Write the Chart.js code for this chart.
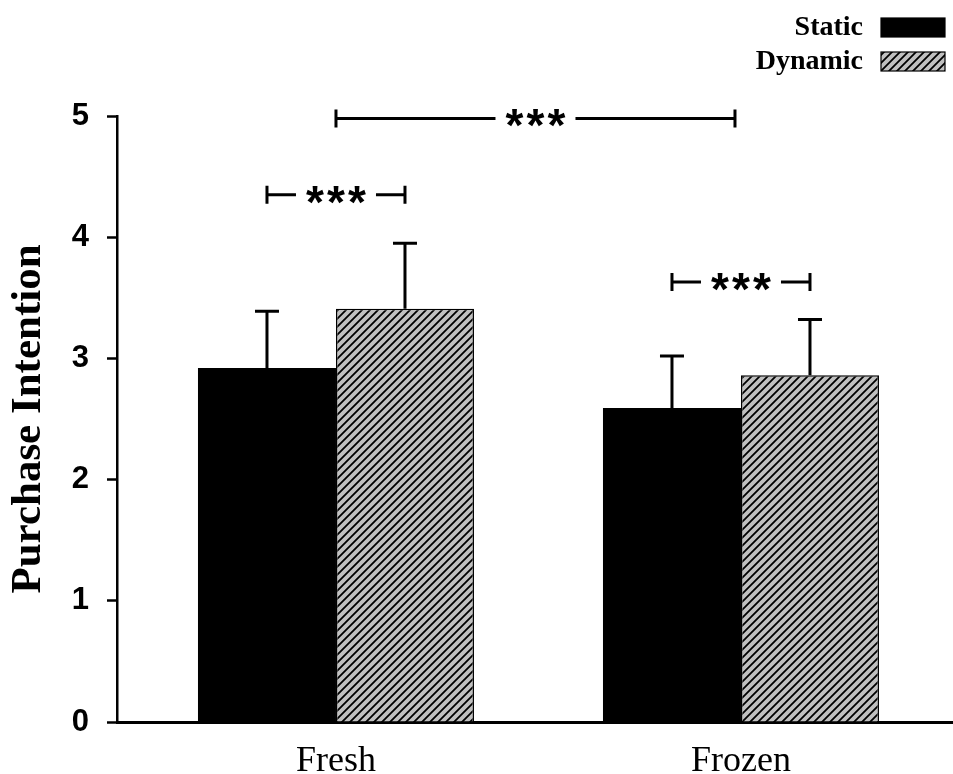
<!DOCTYPE html>
<html>
<head>
<meta charset="utf-8">
<script src="https://cdn.jsdelivr.net/npm/chart.js@4.4.0/dist/chart.umd.min.js"></script>
<style>
  html, body { margin: 0; padding: 0; background: #fff; }
  #wrap { width: 953px; height: 774px; }
</style>
</head>
<body>
<div id="wrap"><canvas id="intentionChart"></canvas></div>
<script>
// Purchase intention chart
const categories = ['Fresh', 'Frozen'];
const seriesNames = ['Static', 'Dynamic'];
const staticMeans = [2.92, 2.59];
const dynamicMeans = [3.41, 2.86];
const staticSD = [0.47, 0.43];
const dynamicSD = [0.54, 0.46];

// significance brackets: within a category (static vs dynamic) and between categories
const sigWithin = [
    { cat: 0, level: 4.35, label: '***' },
    { cat: 1, level: 3.63, label: '***' }
];
const sigBetween = [
    { from: 0, to: 1, level: 4.98, label: '***' }
];

function makeHatch() {
    const size = 8;
    const tile = document.createElement('canvas');
    tile.width = size;
    tile.height = size;
    const c = tile.getContext('2d');
    c.fillStyle = '#c0c0c0';
    c.fillRect(0, 0, size, size);
    c.strokeStyle = '#000';
    c.lineWidth = 1.8;
    c.beginPath();
    c.moveTo(-1, size + 1);
    c.lineTo(size + 1, -1);
    c.moveTo(-1, 1);
    c.lineTo(1, -1);
    c.moveTo(size - 1, size + 1);
    c.lineTo(size + 1, size - 1);
    c.stroke();
    return c.createPattern(tile, 'repeat');
}

const hatch = makeHatch();
const toPoints = arr => arr.map((v, i) => ({ x: i, y: v }));

// error bars (upper half only)
const errorBars = {
    id: 'errorBars',
    afterDatasetsDraw(chart) {
        const ctx = chart.ctx;
        const yScale = chart.scales.y;
        const sds = [staticSD, dynamicSD];
        const means = [staticMeans, dynamicMeans];
        ctx.save();
        ctx.strokeStyle = '#000';
        ctx.lineWidth = 3;
        chart.data.datasets.forEach((ds, di) => {
            chart.getDatasetMeta(di).data.forEach((bar, i) => {
                const top = yScale.getPixelForValue(means[di][i] + sds[di][i]);
                ctx.beginPath();
                ctx.moveTo(bar.x, bar.y);
                ctx.lineTo(bar.x, top);
                ctx.moveTo(bar.x - 12, top);
                ctx.lineTo(bar.x + 12, top);
                ctx.stroke();
            });
        });
        ctx.restore();
    }
};

function drawBracket(ctx, x0, x1, y, label) {
    ctx.font = 'bold 46px "Liberation Sans", Arial, sans-serif';
    const step = 21;
    const chars = label.split('');
    const w = step * (chars.length - 1) + 18;
    const mid = (x0 + x1) / 2;
    const gap = 10;
    ctx.beginPath();
    ctx.moveTo(x0, y - 9);
    ctx.lineTo(x0, y + 9);
    ctx.moveTo(x0, y);
    ctx.lineTo(mid - w / 2 - gap, y);
    ctx.moveTo(mid + w / 2 + gap, y);
    ctx.lineTo(x1, y);
    ctx.moveTo(x1, y - 9);
    ctx.lineTo(x1, y + 9);
    ctx.stroke();
    ctx.textAlign = 'center';
    ctx.textBaseline = 'alphabetic';
    const m = ctx.measureText(chars[0]);
    const shift = (m.actualBoundingBoxDescent - m.actualBoundingBoxAscent) / 2;
    chars.forEach((ch, k) => {
        ctx.fillText(ch, mid + (k - (chars.length - 1) / 2) * step, y - shift);
    });
}

const sigBrackets = {
    id: 'sigBrackets',
    afterDraw(chart) {
        const ctx = chart.ctx;
        const xScale = chart.scales.x;
        const yScale = chart.scales.y;
        ctx.save();
        ctx.strokeStyle = '#000';
        ctx.fillStyle = '#000';
        ctx.lineWidth = 3;
        sigWithin.forEach(s => {
            const a = chart.getDatasetMeta(0).data[s.cat].x;
            const b = chart.getDatasetMeta(1).data[s.cat].x;
            drawBracket(ctx, a, b, yScale.getPixelForValue(s.level), s.label);
        });
        sigBetween.forEach(s => {
            drawBracket(ctx, xScale.getPixelForValue(s.from), xScale.getPixelForValue(s.to) - 6,
                yScale.getPixelForValue(s.level), s.label);
        });
        ctx.restore();
    }
};

// legend: label on the left, swatch on the right
const sideLegend = {
    id: 'sideLegend',
    afterDraw(chart) {
        const ctx = chart.ctx;
        ctx.save();
        ctx.font = 'bold 28px "Liberation Serif", "Times New Roman", serif';
        ctx.textAlign = 'right';
        ctx.textBaseline = 'middle';
        chart.data.datasets.forEach((ds, i) => {
            const cy = 27 + i * 34;
            ctx.fillStyle = '#000';
            ctx.fillText(ds.label, 863, cy + 1);
            ctx.fillStyle = ds.backgroundColor;
            ctx.fillRect(881, cy - 9, 64, 19);
            ctx.strokeStyle = '#000';
            ctx.lineWidth = 1.2;
            ctx.strokeRect(881, cy - 9, 64, 19);
        });
        ctx.restore();
    }
};

const intentionChart = document.getElementById('intentionChart');

const intentionChartData = {
    datasets: [
        {
            label: seriesNames[0],
            data: toPoints(staticMeans),
            backgroundColor: '#000',
            borderColor: '#000',
            borderWidth: 0
        },
        {
            label: seriesNames[1],
            data: toPoints(dynamicMeans),
            backgroundColor: hatch,
            borderColor: '#000',
            borderWidth: 1.5
        }
    ]
};

const intentionChartConfig = {
    type: 'bar',
    data: intentionChartData,
    options: {
        responsive: true,
        maintainAspectRatio: false,
        animation: false,
        categoryPercentage: 0.6815,
        barPercentage: 1,
        layout: { padding: { top: 116, right: 0, bottom: 0, left: 0 } },
        plugins: {
            legend: { display: false },
            tooltip: { enabled: false }
        },
        scales: {
            x: {
                type: 'linear',
                offset: false,
                min: -0.5407,
                max: 1.5235,
                afterFit(scale) { scale.height = 52; },
                ticks: {
                    stepSize: 1,
                    includeBounds: false,
                    autoSkip: false,
                    maxRotation: 0,
                    padding: 25,
                    color: '#000',
                    font: { family: '"Liberation Serif", "Times New Roman", serif', size: 36, lineHeight: 0.8 },
                    callback: v => categories[v] ?? ''
                },
                grid: { drawOnChartArea: false, drawTicks: false },
                border: { color: '#000', width: 3 }
            },
            y: {
                min: 0,
                max: 5,
                afterFit(scale) { scale.width = 117; },
                ticks: {
                    stepSize: 1,
                    padding: 18,
                    color: '#000',
                    font: { family: '"Liberation Sans", Arial, sans-serif', size: 31, weight: 'bold' }
                },
                grid: {
                    drawOnChartArea: false,
                    drawTicks: true,
                    tickLength: 10,
                    tickWidth: 2.5,
                    tickColor: '#000'
                },
                border: { color: '#000', width: 2.5 },
                title: {
                    display: true,
                    text: 'Purchase Intention',
                    color: '#000',
                    padding: { top: 3, bottom: 0 },
                    font: { family: '"Liberation Serif", "Times New Roman", serif', size: 43, weight: 'bold' }
                }
            }
        }
    },
    plugins: [errorBars, sigBrackets, sideLegend]
};

const intentionChartInstance = new Chart(intentionChart, intentionChartConfig);
</script>
</body>
</html>
